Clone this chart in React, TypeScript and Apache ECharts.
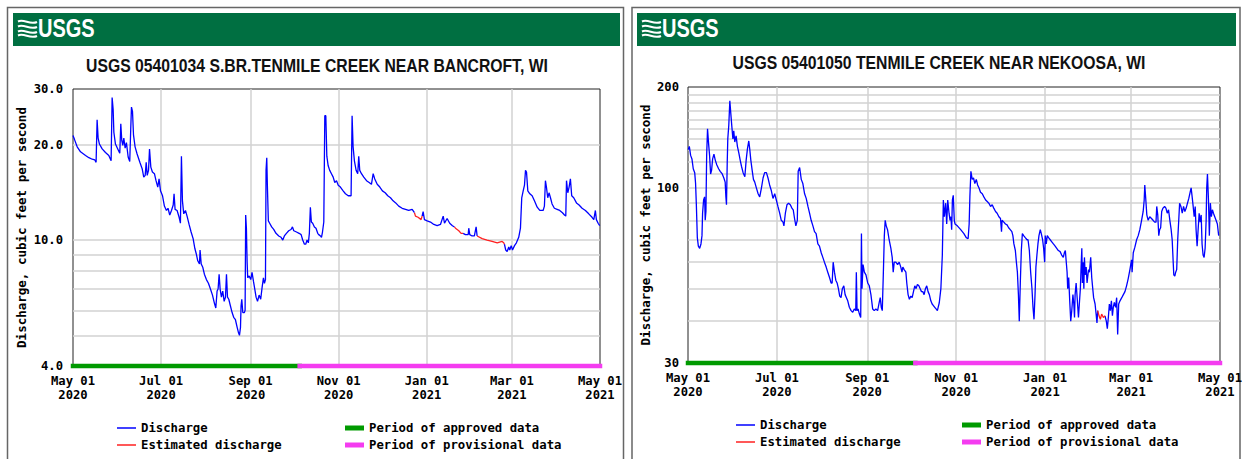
import React, { useEffect, useRef } from "react";
import * as echarts from "echarts";

const START = Date.UTC(2020, 4, 1);
const END = Date.UTC(2021, 4, 1);
const DAY = 86400000;
const MONTHS = ["Jan", "Feb", "Mar", "Apr", "May", "Jun", "Jul", "Aug", "Sep", "Oct", "Nov", "Dec"];

// x-axis labels and vertical grid lines
const dateLabels = ["2020-05-01", "2020-07-01", "2020-09-01", "2020-11-01", "2021-01-01", "2021-03-01", "2021-05-01"];
const dateGrid = ["2020-07-01", "2020-09-01", "2020-11-01", "2021-01-01", "2021-03-01"];

// y-axis labels / grid lines
const bancroftYLabels = [4, 10, 20, 30];
const bancroftYGrid = [5, 6, 7, 8, 9, 10, 20];
const nekoosaYLabels = [30, 100, 200];
const nekoosaYGrid = [40, 50, 60, 70, 80, 90, 100, 110, 120, 130, 140, 150, 160, 170, 180, 190];

// approval periods
const bancroftApproved = ["2020-05-01", "2020-10-05"];
const bancroftProvisional = ["2020-10-05", "2021-05-01"];
const nekoosaApproved = ["2020-05-01", "2020-10-04"];
const nekoosaProvisional = ["2020-10-04", "2021-05-01"];

// [days since 2020-05-01, discharge cfs]; null = gap
const bancroftDischarge: [number, number | null][] = [
  [0, 21.4], [1, 20.8], [2.9, 19.7], [5.2, 19.0], [8.7, 18.5], [11, 18.2], [13.3, 18.0], [15.1, 17.9], [16, 17.6],
  [16.7, 24.0], [17.4, 21.0], [18.3, 20.1], [20.2, 19.4], [22.5, 18.9], [24.8, 18.5], [26.4, 17.8], [27.1, 28.2],
  [27.8, 25.9], [28.3, 21.9], [29.4, 20.1], [31, 19.4], [32.4, 18.8], [33.1, 23.3], [33.8, 20.6], [34.5, 19.9],
  [35.2, 21.0], [36.1, 19.5], [37, 20.3], [38.2, 18.3], [39.3, 17.7], [40, 22.5], [40.5, 26.3], [41.2, 25.5],
  [41.9, 21.5], [43, 19.7], [44.4, 18.7], [46.3, 17.6], [47.9, 16.8], [49, 15.8], [50, 16.0], [50.7, 17.6],
  [51.4, 16.0], [52.3, 16.6], [53, 19.4], [53.9, 17.0], [55, 16.4], [56.4, 16.2], [57.5, 15.4], [58.7, 14.7],
  [59.6, 15.6], [60.6, 14.3], [62, 13.8], [63.3, 12.8], [64.7, 12.4], [65.8, 12.6], [67, 12.0], [68.2, 12.4],
  [69.4, 12.9], [70, 14.0], [70.7, 12.5], [72.1, 12.4], [73.5, 11.8], [74.4, 11.3], [75.1, 18.4], [75.8, 13.3],
  [76.7, 12.1], [77.9, 12.4], [79, 11.9], [80.4, 11.2], [81.8, 10.6], [83.2, 10.1], [84.4, 9.4], [85.5, 9.0],
  [86.4, 8.6], [87.6, 8.4], [88, 9.3], [88.8, 8.4], [89.9, 8.2], [91, 7.8], [92.4, 7.5], [93.8, 7.3], [95.2, 7.0],
  [96.6, 6.7], [98, 6.3], [98.9, 6.1], [99.8, 6.9], [100.5, 7.0], [101.2, 7.8], [101.9, 7.0], [102.8, 6.6],
  [103.7, 6.9], [104.7, 6.4], [105.6, 6.6], [106.3, 7.8], [107, 6.6], [107.9, 6.5], [109, 6.2], [110.2, 5.9],
  [111.3, 5.7], [112.5, 5.6], [113.7, 5.3], [114.6, 5.1], [115.3, 5.0], [116, 5.3], [116.4, 6.2], [116.9, 6.5],
  [117.6, 5.9], [118.7, 5.9], [119.2, 6.0], [119.6, 12.0], [120.1, 10.9], [120.6, 8.5], [121, 7.6], [122, 7.7],
  [123.1, 7.5], [124, 7.9], [125, 7.4], [125.9, 7.0], [126.8, 6.6], [127.8, 6.4], [128.9, 6.7], [130, 6.5],
  [131, 7.1], [131.9, 7.6], [132.6, 7.3], [133.3, 7.5], [133.7, 16.6], [134.2, 18.2], [134.6, 15.0], [135.3, 11.5],
  [136.2, 11.3], [137.6, 11.0], [139, 10.8], [140.6, 10.5], [142.5, 10.3], [144.1, 10.2], [145.3, 10.0],
  [146.4, 10.3], [147.8, 10.5], [149.4, 10.7], [151, 10.8], [152, 11.0], [152.9, 10.7], [154.8, 10.6],
  [156.6, 10.5], [158, 10.4], [159.1, 10.0], [160.3, 9.7], [161.2, 9.7], [162.1, 10.0], [163, 9.8], [163.7, 10.5],
  [164.4, 12.7], [165.1, 11.4], [166, 11.3], [167.2, 11.0], [168.3, 10.9], [169.5, 10.5], [170.2, 10.4],
  [171.4, 10.3], [172.1, 10.2], [172.8, 10.6], [173.7, 11.4], [174.4, 24.7], [175.1, 24.7], [175.8, 18.4],
  [176.7, 17.2], [177.8, 16.6], [179, 16.2], [180.2, 15.8], [181.3, 15.2], [182.5, 15.4], [183.7, 14.9],
  [185.2, 14.7], [187.1, 14.3], [188.7, 14.0], [190.6, 13.8], [192.6, 13.8], [193.3, 24.7], [194, 19.7],
  [194.9, 17.8], [196.1, 16.6], [197.2, 16.2], [197.9, 18.4], [198.6, 16.6], [199.8, 16.2], [201.4, 15.8],
  [203.3, 15.4], [205.1, 15.2], [206.7, 15.0], [207.9, 16.2], [209, 15.6], [210.7, 15.0], [212.5, 14.7],
  [214.3, 14.3], [216.2, 14.1], [218, 13.8], [219.9, 13.6], [221.7, 13.3], [223.5, 13.1], [225.6, 12.8],
  [228, 12.6], [230.3, 12.5], [232.5, 12.4], [234.9, 12.5], [236.5, 12.2], [237.2, null],
  [241.8, 11.9], [242.5, 12.3], [243.4, 11.6], [245.3, 11.5], [247.6, 11.4], [249.9, 11.2], [252.2, 11.1],
  [254.5, 11.2], [256.4, 11.9], [257.3, 11.3], [259.1, 11.7], [260.9, 11.3], [262.8, 11.1], [264.2, 11.0],
  [265, null],
  [270.2, 10.5], [271.8, 10.4], [273.7, 10.4], [274.1, 10.9], [274.8, 10.4], [276.4, 10.3], [278, 10.3],
  [279.2, 11.0], [279.9, 10.3], [281, null],
  [298.8, 9.7], [299.7, 9.3], [300.7, 9.2], [301.8, 9.5], [302.5, 9.3], [303.5, 9.6], [304.4, 9.3], [305.8, 9.6],
  [307.1, 9.8], [308.7, 10.2], [309.9, 10.9], [310.8, 13.6], [311.8, 14.3], [312.7, 14.9], [313.4, 16.6],
  [314.1, 16.4], [315, 14.3], [316.4, 14.0], [318, 13.8], [319.6, 13.3], [321.5, 12.7], [323.3, 12.4],
  [325.6, 12.4], [326.5, 12.8], [327.2, 15.4], [327.9, 14.7], [328.8, 13.6], [329.7, 14.1], [330.7, 13.6],
  [331.8, 13.0], [333.4, 12.6], [335.3, 12.5], [337.1, 12.4], [339, 12.2], [340.4, 12.0], [341.3, 11.9],
  [341.8, 15.4], [342.7, 14.1], [343.6, 14.7], [344.5, 15.6], [345.4, 13.8], [346.8, 13.6], [348.7, 13.1],
  [350.5, 12.9], [352.6, 12.6], [354.9, 12.4], [357.2, 12.1], [359.5, 11.8], [360.7, 11.6], [361.8, 12.4],
  [362.5, 11.6], [363.7, 11.3], [364.8, 11.1],
];

const bancroftEstimated: [number, number | null][] = [
  [236.5, 12.2], [237.2, 11.9], [239, 11.8], [241.1, 11.6], [241.8, 11.9], [242, null],
  [264.2, 11.0], [264.9, 10.9], [267.2, 10.7], [268.8, 10.5], [270.2, 10.5], [271, null],
  [279.9, 10.3], [283.4, 10.1], [286.8, 10.0], [290.3, 9.9], [293.8, 9.8], [297.2, 9.9], [298.3, 9.8], [298.8, 9.7],
];

const nekoosaDischarge: [number, number | null][] = [
  [0.2, 130], [0.9, 133], [1.8, 125], [2.7, 122], [3.6, 114], [4.6, 111], [5.2, 103], [5.7, 90], [6.4, 71],
  [7.1, 67], [8, 66], [8.9, 68], [9.6, 72], [10, 84], [10.7, 92], [11.4, 94], [11.8, 80], [12.3, 85], [12.8, 125],
  [13.4, 150], [14.1, 136], [14.8, 125], [15.5, 110], [16.2, 113], [16.9, 122], [17.8, 126], [18.7, 121],
  [19.8, 117], [21, 114], [22.1, 112], [23.5, 110], [24.6, 107], [25.5, 104], [26, 94], [26.4, 89], [26.9, 118],
  [27.3, 140], [28, 154], [28.7, 182], [29.4, 166], [30.1, 152], [30.8, 140], [31.4, 148], [32.1, 137], [33, 143],
  [33.9, 133], [34.9, 127], [35.8, 121], [36.7, 116], [37.8, 111], [39, 108], [39.9, 121], [40.8, 131],
  [41.7, 138], [42.4, 130], [43.1, 121], [44, 113], [44.9, 106], [45.8, 104], [46.9, 100], [48.1, 96], [49.2, 94],
  [50.4, 100], [51.5, 107], [52.6, 111], [53.8, 111], [54.9, 107], [56, 102], [57.2, 98], [58.3, 93], [59.5, 96],
  [60.6, 92], [61.7, 88], [62.9, 84], [64, 80], [65.2, 79], [65.8, 77], [66.8, 84], [67.9, 89], [69, 90],
  [70.2, 89], [71.3, 87], [72.2, 86], [73.1, 81], [74, 77], [75, 80], [75.6, 112], [76.6, 115], [77.7, 106],
  [78.8, 103], [80, 96], [81.1, 93], [82.3, 88], [83.4, 84], [84.5, 80], [85.7, 77], [86.8, 74], [87.9, 73],
  [89.1, 68], [90.2, 67], [91.4, 64], [92.5, 62], [93.6, 60], [94.8, 58], [95.9, 56], [97.1, 54], [98.2, 52],
  [98.9, 52], [99.6, 60], [100.5, 56], [101.4, 53], [102.3, 52], [103.2, 50], [104.1, 47.5], [105, 47],
  [105.9, 50], [106.9, 51], [107.8, 48], [108.7, 47], [109.6, 46], [110.7, 44], [111.9, 43], [113, 42.5],
  [114.1, 43.5], [115.1, 43], [115.5, 56], [116, 43], [116.7, 43.5], [117.6, 42], [118.5, 41], [119, 73],
  [119.4, 50], [120.1, 59], [121, 56], [122.1, 55], [123.3, 52], [124.4, 51], [125.5, 48], [126.7, 43.5],
  [127.8, 43], [128.9, 43.5], [130.1, 43], [131.2, 45.5], [131.9, 47], [132.6, 44], [133.3, 43], [134, 55],
  [134.7, 72], [135.3, 80], [136, 77], [136.9, 75], [138, 70], [139.2, 66], [140.1, 62], [140.8, 56], [141.5, 60],
  [142.6, 60], [143.8, 59], [144.9, 60], [146, 58], [146.8, 56], [147.4, 58], [148.3, 57], [149.5, 56],
  [150.1, 52], [151, 48], [151.9, 46.5], [152.9, 47.5], [153.8, 47], [154.7, 49], [155.6, 51], [156.5, 50],
  [157.4, 51.5], [158.4, 51], [159.3, 50], [160.2, 49], [161.1, 49], [162, 48], [162.9, 50], [163.8, 51],
  [164.7, 49], [165.6, 48], [166.6, 46], [167.5, 45], [168.4, 44.5], [169.3, 44], [170.2, 43.5], [171.1, 43],
  [172.4, 45.4], [173.5, 50], [174.5, 63], [175.2, 92], [175.9, 82], [176.8, 90], [177.5, 78], [178.2, 92],
  [179.1, 84], [179.8, 80], [180.4, 82], [180.9, 75], [181.4, 92], [182, 95], [182.7, 80], [183.2, 78],
  [184.8, 77], [187.1, 75], [189.3, 73], [190.9, 71], [192.2, 70.5], [192.9, 78], [193.4, 94], [194.1, 112],
  [195, 106], [195.9, 107], [196.8, 103], [197.8, 106], [198.7, 102], [199.6, 100], [200.7, 97], [201.9, 96],
  [203, 94], [204.2, 92], [205.3, 91], [206.4, 90], [207.6, 88], [208.7, 89], [209.8, 87], [211, 85], [212.1, 84],
  [213.3, 82], [214.4, 81], [215.1, 74], [215.5, 80], [216.7, 79], [217.8, 78], [218.9, 77.5], [220, 76],
  [221.1, 75], [222.2, 74], [222.9, 72], [223.6, 68], [224.6, 65], [225.3, 60], [226, 56], [226.7, 48],
  [227.3, 40], [228, 52], [228.7, 65], [229.4, 73], [230.3, 72], [231.4, 71], [232.6, 70], [233.3, 70],
  [234.2, 65], [235.1, 56], [236, 50], [236.7, 44], [237.4, 40.5], [238.1, 48], [238.7, 58], [239.4, 63],
  [240.1, 68], [240.8, 72], [241.7, 75], [242.4, 73], [243.3, 70], [244, 66], [244.7, 60], [245.1, 72],
  [245.8, 68], [246.5, 72], [247.4, 71], [248.5, 70], [249.6, 69], [250.7, 68], [251.9, 67], [253, 66],
  [254.1, 65], [255.3, 64.5], [256.4, 63], [257.5, 62], [258.2, 64], [258.9, 65], [259.4, 61], [260.1, 56],
  [260.5, 50], [261.2, 54], [261.9, 46], [262.6, 40], [263.3, 43], [264.1, 48], [264.7, 45], [265.2, 41],
  [265.6, 48], [266.3, 52], [267, 47], [267.9, 41], [268.5, 45], [269.2, 50], [269.7, 58], [270.2, 66],
  [270.6, 52], [271.1, 60], [271.6, 50], [272, 62], [272.5, 55], [273.2, 58], [273.8, 52], [274.8, 57],
  [275.4, 56], [276.3, 62], [277, 54], [277.7, 50], [278.3, 47], [279.3, 45], [280, 42], [280.6, 39.5],
  [281.1, 43], [281.5, null],
  [286.1, 41.5], [287, 40], [287.7, 38], [288.4, 41], [289.1, 45], [289.8, 43], [290.5, 46], [291.2, 41.5],
  [291.8, 44], [292.5, 45.5], [293.4, 44], [294.1, 47], [294.8, 36.5], [295.5, 45], [296.4, 46], [297.6, 47],
  [298.7, 48], [299.8, 49], [300.9, 51], [302, 53.5], [303.2, 57], [304.3, 61], [304.7, 56], [305.5, 64],
  [306.6, 66.5], [307.8, 70], [308.9, 72], [310, 75], [311.2, 80], [312.3, 85], [313, 92], [313.4, 102],
  [313.9, 95], [314.8, 83], [315.7, 80], [316.8, 82], [318, 81], [319.1, 80], [320.2, 79], [321.1, 79],
  [321.6, 88], [322.3, 83], [323, 72], [323.6, 75], [324.3, 76], [325, 85], [325.9, 87], [327, 88], [327.9, 87],
  [328.8, 84], [329.7, 86], [330.6, 80], [331.5, 75], [332.2, 70], [332.9, 60], [333.3, 55], [334, 54.5],
  [334.6, 56], [335.3, 57], [336, 70], [336.7, 80], [337.3, 90], [338.2, 88], [339.1, 84], [340, 88], [340.9, 85],
  [341.8, 87], [342.7, 90], [343.6, 93], [344.5, 97], [345.2, 100], [345.9, 94], [346.6, 88], [347.3, 82],
  [348, 88], [348.6, 75], [349.3, 67], [350, 75], [350.7, 84], [351.4, 79], [352.1, 83], [352.7, 68],
  [353.4, 63], [354.1, 62], [354.8, 66], [355.5, 80], [355.9, 100], [356.4, 110], [357.1, 92], [357.7, 72],
  [358.4, 90], [359.1, 82], [359.8, 86], [360.5, 84], [361.4, 82], [362.3, 80], [363.2, 78], [364.1, 72],
];

const nekoosaEstimated: [number, number | null][] = [
  [281.1, 43], [282, 41.5], [282.9, 40.5], [283.8, 42], [285, 41], [286.1, 41.5],
];

const MONO = '"DejaVu Sans Mono", monospace';
const BLUE = "#0000ff";
const RED = "#ff2020";
const GREEN = "#009a00";
const MAGENTA = "#f43cf0";

const toTime = (pts: [number, number | null][]) => pts.map(([d, v]) => [START + d * DAY, v]);
const periodLine = (span: string[], v: number) => span.map((s) => [Date.parse(s), v]);

function fmtDate(v: number) {
  const d = new Date(v);
  return MONTHS[d.getUTCMonth()] + " " + String(d.getUTCDate()).padStart(2, "0") + "\n" + d.getUTCFullYear();
}

interface PanelCfg {
  grid: { left: number; top: number; width: number; height: number };
  yMin: number;
  yMax: number;
  yLabels: number[];
  yGrid: number[];
  yFmt: (v: number) => string;
  nameGap: number;
  labelMargin: number;
  discharge: [number, number | null][];
  estimated: [number, number | null][];
  approved: string[];
  provisional: string[];
  legendLeft: [number, number];
  legendTop: number;
}

function App() {
  const ref = useRef<HTMLDivElement>(null);

  useEffect(() => {
    if (!ref.current) return;
    const chart = echarts.init(ref.current, undefined, { renderer: "svg" });

    const panels: PanelCfg[] = [
      {
        grid: { left: 73, top: 89, width: 527, height: 277 },
        yMin: 4, yMax: 30, yLabels: bancroftYLabels, yGrid: bancroftYGrid,
        yFmt: (v) => (Math.round(v * 10) / 10).toFixed(1),
        nameGap: 45, labelMargin: 10,
        discharge: bancroftDischarge, estimated: bancroftEstimated,
        approved: bancroftApproved, provisional: bancroftProvisional,
        legendLeft: [117, 345], legendTop: 421,
      },
      {
        grid: { left: 688, top: 87, width: 534, height: 276 },
        yMin: 30, yMax: 200, yLabels: nekoosaYLabels, yGrid: nekoosaYGrid,
        yFmt: (v) => String(Math.round(v)),
        nameGap: 36, labelMargin: 9,
        discharge: nekoosaDischarge, estimated: nekoosaEstimated,
        approved: nekoosaApproved, provisional: nekoosaProvisional,
        legendLeft: [736, 962], legendTop: 418,
      },
    ];

    const splitStyle = { color: "#d2d2d2", width: 1.5 };
    const labelFont = { fontFamily: MONO, fontWeight: "bold" as const, fontSize: 12.2, color: "#000" };

    const grids: any[] = [];
    const xAxes: any[] = [];
    const yAxes: any[] = [];
    const series: any[] = [];
    const legends: any[] = [];

    panels.forEach((p, i) => {
      grids.push({ ...p.grid, show: true, borderColor: "#222", borderWidth: 1, containLabel: false });
      xAxes.push({
        type: "value", gridIndex: i, min: START, max: END, scale: true,
        axisLine: { show: false },
        axisTick: { show: false, customValues: dateGrid.map((s) => Date.parse(s)) },
        splitLine: { show: true, lineStyle: splitStyle },
        axisLabel: {
          ...labelFont, lineHeight: 14, margin: 8,
          customValues: dateLabels.map((s) => Date.parse(s)),
          formatter: (v: number) => fmtDate(v),
          showMinLabel: true, showMaxLabel: true, hideOverlap: false,
        },
      });
      yAxes.push({
        type: "log", logBase: 10, gridIndex: i, min: p.yMin, max: p.yMax,
        axisLine: { show: false },
        axisTick: { show: false, customValues: p.yGrid },
        splitLine: { show: true, lineStyle: splitStyle },
        minorSplitLine: { show: false },
        axisLabel: { ...labelFont, margin: p.labelMargin, customValues: p.yLabels, formatter: (v: number) => p.yFmt(v) },
        name: "Discharge, cubic feet per second",
        nameLocation: "middle", nameGap: p.nameGap,
        nameTextStyle: { fontFamily: MONO, fontWeight: "bold", fontSize: 12.5, color: "#000" },
      });
      series.push(
        {
          name: "Discharge", type: "line", xAxisIndex: i, yAxisIndex: i, data: toTime(p.discharge),
          showSymbol: false, symbol: "none", connectNulls: false,
          lineStyle: { color: BLUE, width: 1.3 }, itemStyle: { color: BLUE }, color: BLUE, z: 3,
        },
        {
          name: "Estimated discharge", type: "line", xAxisIndex: i, yAxisIndex: i, data: toTime(p.estimated),
          showSymbol: false, symbol: "none", connectNulls: false,
          lineStyle: { color: RED, width: 1.3 }, itemStyle: { color: RED }, color: RED, z: 4,
        },
        {
          name: "Period of approved data", type: "line", xAxisIndex: i, yAxisIndex: i,
          data: periodLine(p.approved, p.yMin), clip: false, showSymbol: false, symbol: "none",
          lineStyle: { color: GREEN, width: 4.5, cap: "square" }, itemStyle: { color: GREEN }, color: GREEN, z: 5,
        },
        {
          name: "Period of provisional data", type: "line", xAxisIndex: i, yAxisIndex: i,
          data: periodLine(p.provisional, p.yMin), clip: false, showSymbol: false, symbol: "none",
          lineStyle: { color: MAGENTA, width: 4.5, cap: "square" }, itemStyle: { color: MAGENTA }, color: MAGENTA, z: 5,
        }
      );
      const legendText = { fontFamily: MONO, fontWeight: "bold", fontSize: 12.3, color: "#000", lineHeight: 14 };
      legends.push(
        {
          left: p.legendLeft[0], top: p.legendTop, orient: "vertical", icon: "rect",
          itemWidth: 19, itemHeight: 1.5, itemGap: 3, padding: 0, selectedMode: false,
          data: ["Discharge", "Estimated discharge"], textStyle: legendText,
        },
        {
          left: p.legendLeft[1], top: p.legendTop, orient: "vertical", icon: "rect",
          itemWidth: 19, itemHeight: 5, itemGap: 3, padding: 0, selectedMode: false,
          data: ["Period of approved data", "Period of provisional data"], textStyle: legendText,
        }
      );
    });

    const header = (x0: number, width: number, title: string, titleX: number, titleY: number) => {
      const lx = x0 + 5;
      const waves = [0, 5, 10, 14].map((dy) => ({
        type: "bezierCurve", silent: true,
        shape: { x1: lx, y1: 21.5 + dy, x2: lx + 19, y2: 22 + dy, cpx1: lx + 6, cpy1: 18.5 + dy, cpx2: lx + 12, cpy2: 25.5 + dy },
        style: { stroke: "#fff", lineWidth: 2, fill: null },
      }));
      return [
        { type: "rect", silent: true, shape: { x: x0, y: 13, width, height: 33 }, style: { fill: "#006f41" } },
        ...waves,
        {
          type: "text", silent: true, x: lx + 20, y: 28, scaleX: 0.77,
          style: {
            text: "USGS", fill: "#fff", font: 'bold 26px "Liberation Sans", Arial, sans-serif',
            textAlign: "left", textVerticalAlign: "middle", align: "left", verticalAlign: "middle",
          },
        },
        {
          type: "text", silent: true, x: titleX, y: titleY, scaleX: 0.875,
          style: {
            text: title, fill: "#111", font: 'bold 18px "Liberation Sans", Arial, sans-serif',
            textAlign: "center", textVerticalAlign: "middle", align: "center", verticalAlign: "middle",
          },
        },
      ];
    };

    const graphic = [
      { type: "rect", silent: true, shape: { x: 7.5, y: 7.5, width: 616, height: 470 }, style: { fill: "none", stroke: "#666", lineWidth: 1.5 } },
      { type: "rect", silent: true, shape: { x: 632, y: 7.5, width: 608, height: 470 }, style: { fill: "none", stroke: "#666", lineWidth: 1.5 } },
      ...header(13, 607, "USGS 05401034 S.BR.TENMILE CREEK NEAR BANCROFT, WI", 317, 66),
      ...header(637, 599, "USGS 05401050 TENMILE CREEK NEAR NEKOOSA, WI", 939, 63.5),
    ];

    chart.setOption({
      animation: false,
      backgroundColor: "#fff",
      grid: grids,
      xAxis: xAxes,
      yAxis: yAxes,
      series,
      legend: legends,
      graphic,
    });

    return () => chart.dispose();
  }, []);

  return <div ref={ref} style={{ position: "absolute", left: 0, top: 0, width: 1245, height: 459 }} />;
}

export default App;
